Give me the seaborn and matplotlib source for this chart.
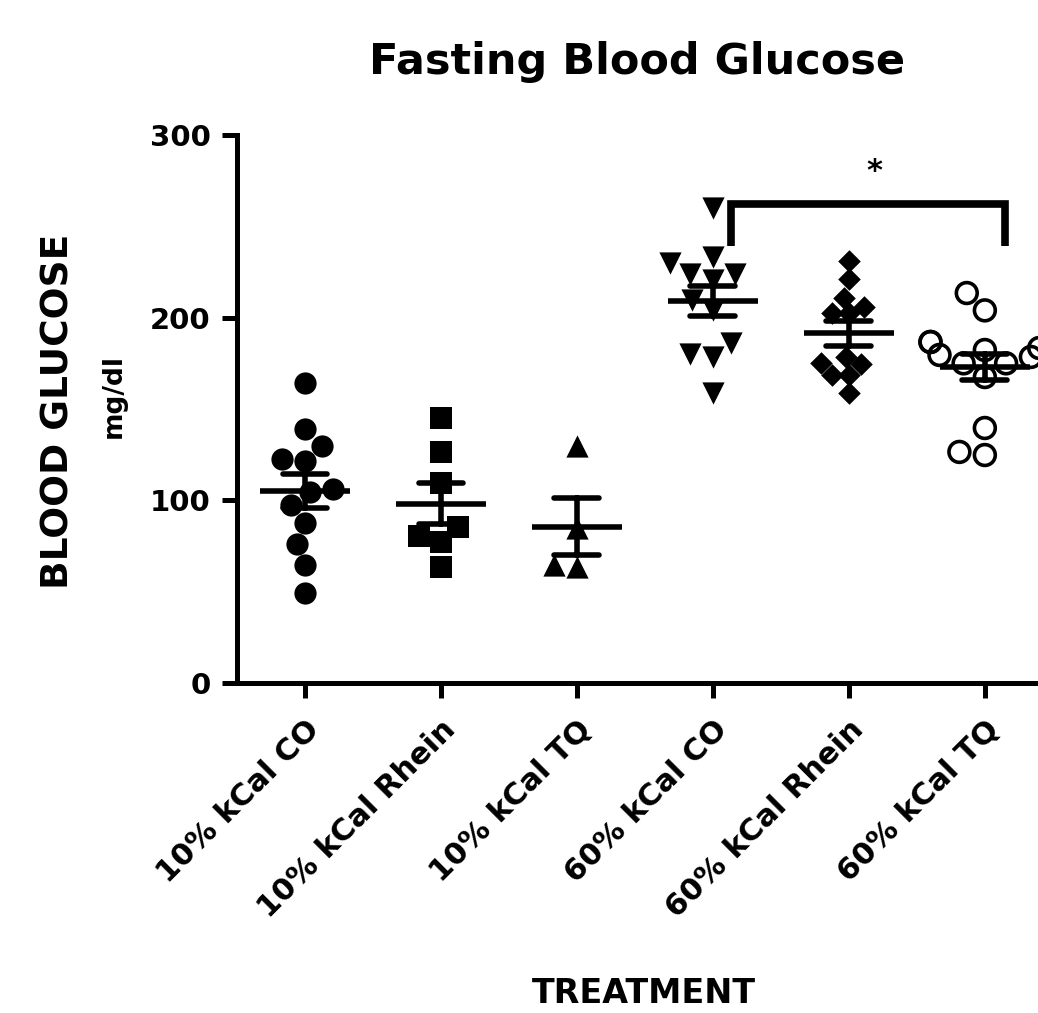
import pandas as pd
import seaborn as sns
import matplotlib.pyplot as plt

# fasting blood glucose (mg/dl) per treatment group
groups = ["10% kCal CO", "10% kCal Rhein", "10% kCal TQ",
          "60% kCal CO", "60% kCal Rhein", "60% kCal TQ"]
co_10 = [164, 139, 130, 122.6, 121.5, 106, 104.5, 97.4, 87.6, 76, 64.6, 49]
rhein_10 = [145, 126.5, 109.5, 85.4, 80.5, 77, 63.5]
tq_10 = [129.7, 84.8, 64.6, 63.5]
co_60 = [260, 233, 230, 224, 224, 220.6, 209.7, 204, 186, 180, 178.5, 158.8]
rhein_60 = [231, 221, 210.8, 206, 202.5, 202.5, 178.5, 175, 174.6, 168.6, 168.6, 158.8]
tq_60 = [213.5, 204, 186.7, 186.7, 183.4, 182.3, 179.6, 178.5, 175, 175,
         167.5, 139.6, 126.5, 124.8]

# significance bracket: 60% CO vs 60% TQ
sig_pair = ("60% kCal CO", "60% kCal TQ")
sig_top = 262
sig_leg = 239
sig_label = "*"

values = [co_10, rhein_10, tq_10, co_60, rhein_60, tq_60]
df = pd.concat([pd.DataFrame({"group": g, "glucose": v}) for g, v in zip(groups, values)],
               ignore_index=True)

# marker style for each group (GraphPad-like)
styles = {
    "10% kCal CO": dict(marker="o", size=16),
    "10% kCal Rhein": dict(marker="s", size=16),
    "10% kCal TQ": dict(marker="^", size=16),
    "60% kCal CO": dict(marker="v", size=16),
    "60% kCal Rhein": dict(marker="D", size=11.5),
    "60% kCal TQ": dict(marker="o", size=15, facecolor="none", edgecolor="black", linewidth=2.6),
}

sns.set_style("ticks")
plt.rcParams["font.family"] = ["DejaVu Sans"]
plt.rcParams["font.weight"] = "bold"
for key in ["text.color", "axes.labelcolor", "xtick.color", "ytick.color", "axes.edgecolor"]:
    plt.rcParams[key] = "black"

fig = plt.figure(figsize=(10.38, 10.13), dpi=100)
ax = fig.add_axes([0.2283, 0.3258, 0.786, 0.5409])

for g in groups:
    sns.swarmplot(data=df[df["group"] == g], x="group", y="glucose", order=groups,
                  color="black", ax=ax, **styles[g])

# mean +/- SEM
sns.pointplot(data=df, x="group", y="glucose", order=groups, errorbar="se",
              capsize=0.33, color="black", marker="_", markersize=65,
              markeredgewidth=4, linestyle="none", zorder=5,
              err_kws={"linewidth": 4, "zorder": 5}, ax=ax)

ax.set_xlim(-0.5, 5.5)
ax.set_ylim(0, 300)
ax.set_yticks([0, 100, 200, 300])
ax.set_xlabel("")
ax.set_ylabel("")
sns.despine(ax=ax)
for side in ["left", "bottom"]:
    ax.spines[side].set_linewidth(3.6)
    ax.spines[side].set_color("black")
ax.tick_params(width=3.6, length=11, colors="black")
ax.tick_params(axis="y", labelsize=21, pad=8)
ax.tick_params(axis="x", labelsize=22, pad=12)
plt.setp(ax.get_xticklabels(), rotation=45, ha="right", rotation_mode="anchor")
plt.setp(ax.get_xticklabels() + ax.get_yticklabels(), fontweight="bold")

# significance bracket
x1 = groups.index(sig_pair[0]) + 0.13
x2 = groups.index(sig_pair[1]) + 0.15
ax.plot([x1, x1, x2, x2], [sig_leg, sig_top, sig_top, sig_leg], color="black",
        lw=5.5, clip_on=False, solid_joinstyle="miter", solid_capstyle="butt")
ax.text((x1 + x2) / 2 + 0.05, 280, sig_label, ha="center", va="center",
        fontsize=22, fontweight="bold")

fig.text(637 / 1038, 1 - 62 / 1013, "Fasting Blood Glucose", ha="center", va="center",
         fontsize=31, fontweight="bold")
fig.text(644 / 1038, 1 - 993 / 1013, "TREATMENT", ha="center", va="center",
         fontsize=24, fontweight="bold")
fig.text(59 / 1038, 1 - 411 / 1013, "BLOOD GLUCOSE", ha="center", va="center",
         rotation=90, fontsize=27, fontweight="bold")
fig.text(114 / 1038, 1 - 396 / 1013, "mg/dl", ha="center", va="center",
         rotation=90, fontsize=19, fontweight="bold")

fig.savefig("out.png", dpi=100)
